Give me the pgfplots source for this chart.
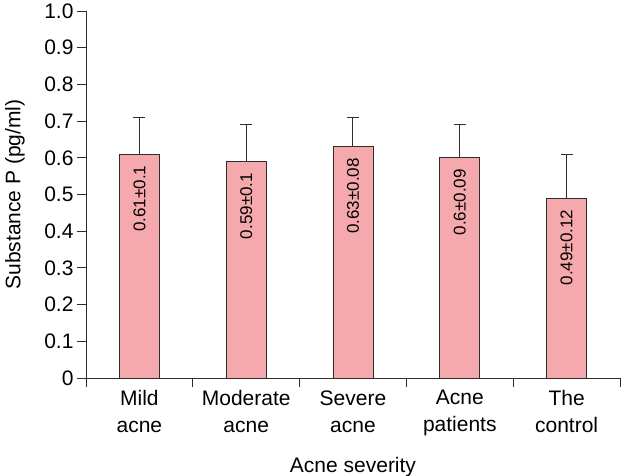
\documentclass[border=0pt]{standalone}
\usepackage{fontspec}
\setmainfont{Liberation Sans}
\usepackage{pgfplots}
\usepackage{pgfplotstable}
\pgfplotsset{compat=1.18}
\definecolor{barpink}{RGB}{245,169,173}
\definecolor{edge}{RGB}{45,45,45}
\pgfplotstableread{
x y e lab
0 0.61 0.10 0.61±0.1
1 0.59 0.10 0.59±0.1
2 0.63 0.08 0.63±0.08
3 0.60 0.09 0.6±0.09
4 0.49 0.12 0.49±0.12
}\datatable
\begin{document}
\begin{tikzpicture}
\useasboundingbox (-86bp,-98bp) rectangle (536bp,378bp);
\begin{axis}[
  at={(0,0)}, anchor=south west,
  scale only axis, width=534bp, height=367bp,
  xmin=-0.5, xmax=4.5, ymin=0, ymax=1,
  axis x line*=bottom, axis y line*=left,
  axis line style={-, edge, line width=0.8bp},
  tick style={edge, line width=0.8bp},
  tick align=outside, major tick length=9bp,
  xtick={-0.5,0.5,1.5,2.5,3.5,4.5},
  x tick label as interval,
  xticklabels={Mild\\acne, Moderate\\acne, Severe\\acne, Acne\\patients, The\\control},
  xticklabel style={align=center, font=\fontsize{21bp}{27bp}\selectfont, text=black},
  ytick={0,0.1,...,1.0},
  yticklabels={0,0.1,0.2,0.3,0.4,0.5,0.6,0.7,0.8,0.9,1.0},
  yticklabel style={font=\fontsize{21bp}{25bp}\selectfont, text=black},
  /pgf/number format/assume math mode=true,
  xlabel={Acne severity},
  ylabel={Substance P (pg/ml)},
  xlabel style={at={(axis description cs:0.5,-0.2425)}, anchor=center, font=\fontsize{21bp}{25bp}\selectfont, text=black},
  ylabel style={at={(axis description cs:-0.133,0.5)}, anchor=center, font=\fontsize{21bp}{25bp}\selectfont, text=black},
  clip=false,
]
\addplot[ybar, bar width=0.375, fill=barpink, draw=edge, line width=0.9bp,
  error bars/.cd, y dir=plus, y explicit,
  error bar style={edge, line width=1bp},
  error mark options={rotate=90, mark size=6bp, edge, line width=1bp},
  ] table[x=x, y=y, y error=e] {\datatable};
\addplot[ybar, bar width=0.375, draw=none, fill=none,
  nodes near coords, point meta=explicit symbolic,
  nodes near coords style={yshift=-8bp, rotate=90, anchor=east, font=\fontsize{17bp}{20bp}\selectfont, text=black},
  ] table[x=x, y=y, meta=lab] {\datatable};
\end{axis}
\end{tikzpicture}
\end{document}
